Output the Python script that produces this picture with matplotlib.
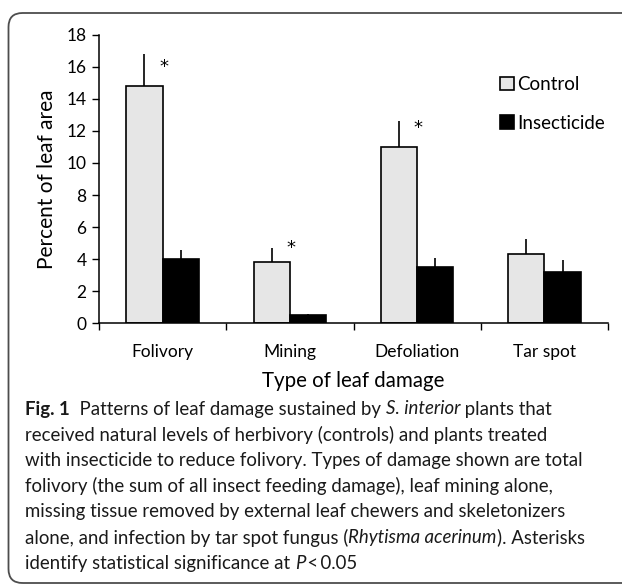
import matplotlib
matplotlib.use("Agg")
import matplotlib.pyplot as plt
import numpy as np
from matplotlib.patches import FancyBboxPatch
from matplotlib.transforms import IdentityTransform

# data
categories = ["Folivory", "Mining", "Defoliation", "Tar spot"]
control = [14.83, 3.80, 11.02, 4.31]
control_err = [1.96, 0.88, 1.61, 0.95]
insecticide = [4.01, 0.50, 3.53, 3.18]
insecticide_err = [0.56, 0.08, 0.56, 0.77]
star_y = [16.0, 4.68, 12.2]   # asterisks for the first three groups

chart_font = "Lato"
cap_font = "Lato"

W, H = 622, 586
fig = plt.figure(figsize=(W / 100, H / 100), dpi=100)

# rounded frame around the whole panel (runs off the right/bottom edge)
frame = FancyBboxPatch((8.5, 3), 660, H - 16, boxstyle="round,pad=0,rounding_size=14",
                       transform=IdentityTransform(), fill=False, edgecolor="#4d4d4d",
                       linewidth=1.3, clip_on=False)
fig.patches.append(frame)

ax = fig.add_axes([99 / W, 1 - 323.3 / H, (608 - 99) / W, (323.3 - 34.7) / H])

x = np.arange(len(categories))
bw = 0.285
ax.bar(x - bw / 2, control, bw, color="#e6e6e6", edgecolor="black", linewidth=1.2,
       label="Control", zorder=2)
ax.bar(x + bw / 2, insecticide, bw, color="black", edgecolor="black", linewidth=1.2,
       label="Insecticide", zorder=2)
ax.errorbar(x - bw / 2, control, yerr=[np.zeros(4), control_err], fmt="none",
            ecolor="black", elinewidth=1.2, capsize=0, zorder=1)
ax.errorbar(x + bw / 2, insecticide, yerr=[np.zeros(4), insecticide_err], fmt="none",
            ecolor="black", elinewidth=1.2, capsize=0, zorder=1)

for i, sy in enumerate(star_y):
    ax.text(x[i] + 0.01, sy, "*", ha="center", va="center", fontsize=13,
            fontfamily="DejaVu Sans")

ax.set_xlim(-0.5, 3.5)
ax.set_ylim(0, 18)
ax.set_yticks(np.arange(0, 19, 2))
ax.set_xticks(np.arange(-0.5, 4, 1))
ax.set_xticklabels([])
ax.set_xticks(x, minor=True)
ax.set_xticklabels(categories, minor=True, fontsize=12.5, fontfamily=chart_font)
ax.tick_params(axis="x", which="minor", length=0, pad=15)
ax.tick_params(axis="x", which="major", length=5, width=1, direction="out")
ax.tick_params(axis="y", length=5, width=1, direction="out", labelsize=12.5, pad=4)
for lab in ax.get_yticklabels():
    lab.set_fontfamily(chart_font)
for s in ["top", "right"]:
    ax.spines[s].set_visible(False)
ax.spines["left"].set_linewidth(1.1)
ax.spines["bottom"].set_linewidth(1.1)

ax.set_ylabel("Percent of leaf area", fontsize=15, fontfamily=chart_font, labelpad=7)
ax.set_xlabel("Type of leaf damage", fontsize=14.8, fontfamily=chart_font, labelpad=8)

leg = ax.legend(loc="upper left", bbox_to_anchor=(0.755, 0.915), frameon=False,
                handlelength=0.75, handleheight=0.75, handletextpad=0.15,
                labelspacing=1.15, prop={"family": chart_font, "size": 13.5})

# caption, drawn piece by piece so bold / italic runs can sit inline
caption = [
    [("Fig. 1", "bold", "normal"), ("  Patterns of leaf damage sustained by ", "normal", "normal"),
     ("S. interior", "normal", "italic"), (" plants that", "normal", "normal")],
    [("received natural levels of herbivory (controls) and plants treated", "normal", "normal")],
    [("with insecticide to reduce folivory. Types of damage shown are total", "normal", "normal")],
    [("folivory (the sum of all insect feeding damage), leaf mining alone,", "normal", "normal")],
    [("missing tissue removed by external leaf chewers and skeletonizers", "normal", "normal")],
    [("alone, and infection by tar spot fungus (", "normal", "normal"),
     ("Rhytisma acerinum", "normal", "italic"), ("). Asterisks", "normal", "normal")],
    [("identify statistical significance at ", "normal", "normal"), ("P", "normal", "italic"),
     ("\u2009<\u20090.05", "normal", "normal")],
]

renderer = fig.canvas.get_renderer()

# fit the caption font size to the reference line width
probe = fig.text(0, 0, caption[2][0][0], fontsize=12, fontfamily=cap_font)
pw = probe.get_window_extent(renderer).width
probe.remove()
cap_size = 12 * 557 / pw

x0 = 25
y_first = 409
step = 25.7
for li, parts in enumerate(caption):
    cx = x0
    yy = H - (y_first + li * step)
    for txt, weight, style in parts:
        t = fig.text(cx / W, yy / H, txt, fontsize=cap_size, fontfamily=cap_font,
                     fontweight=weight, fontstyle=style, va="center", ha="left",
                     color="#1a1a1a")
        cx += t.get_window_extent(renderer).width

fig.savefig("out.png", dpi=100)
